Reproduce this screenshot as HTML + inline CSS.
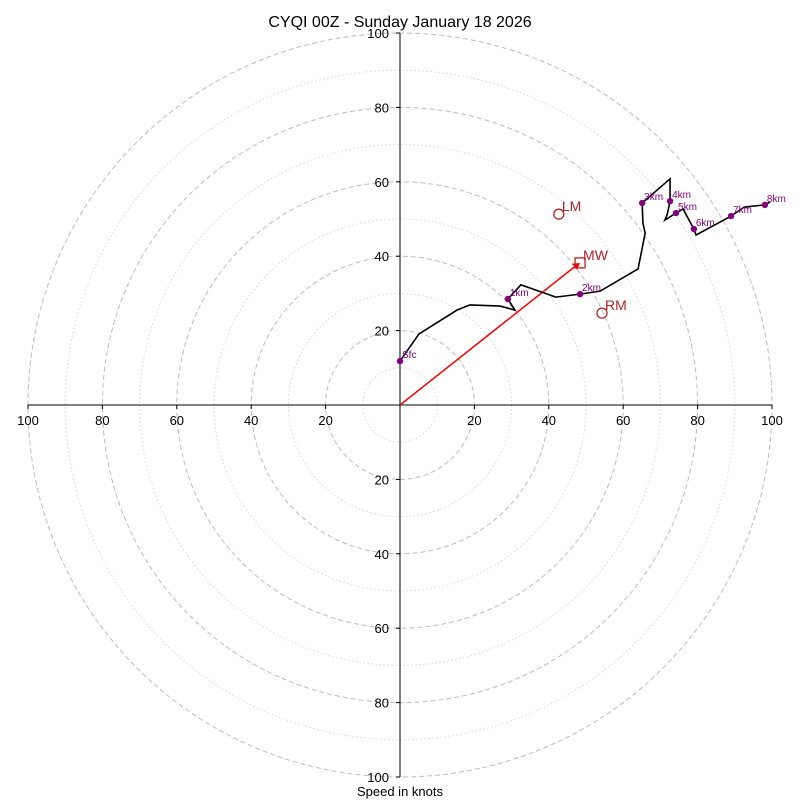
<!DOCTYPE html>
<html><head><meta charset="utf-8"><style>
body{margin:0;background:#fff}
svg{display:block;font-family:"Liberation Sans","DejaVu Sans",sans-serif}
</style></head><body>
<svg id="c" width="800" height="800"></svg>
<script>
const heightLabels=["Sfc","","","","","","1km","","","2km","","","","","3km","","4km","","","5km","","6km","","7km","","8km",""];
const uKts=[0,5.1,15.3,18.8,26.9,30.9,29.0,32.5,41.9,48.4,53.8,64.0,65.9,65.3,65.1,72.6,72.6,71.8,71.2,74.2,76.1,79.0,79.6,89.0,92.5,98.1,99.5];
const vKts=[11.8,19.1,25.5,26.9,26.6,25.5,28.5,32.3,29.0,29.8,30.6,36.6,46.2,48.9,54.3,60.8,54.8,51.1,49.7,51.6,52.7,47.3,45.7,50.8,53.2,53.8,54.6];
const motionNames=["LM","MW","RM"];
const motionU=[42.7,48.4,54.3];
const motionV=[51.3,38.2,24.7];
const ringValues=[10,20,30,40,50,60,70,80,90,100];
const tickLabels=[20,40,60,80,100];
const cx=400,cy=405,S=3.72;
const X=u=>cx+u*S, Y=v=>cy-v*S;
const svg=document.getElementById('c');
const NS='http://www.w3.org/2000/svg';
function mk(t,a,p){const e=document.createElementNS(NS,t);for(const k in a)e.setAttribute(k,a[k]);(p||svg).appendChild(e);return e;}
ringValues.forEach(r=>{
 const e=mk('circle',{cx:cx,cy:cy,r:r*S,fill:'none',stroke:r%20===0?'#bdbdbd':'#d6d6d6','stroke-width':1,'stroke-dasharray':r%20===0?'5,3':'1.5,2.5'});
 
 
});
let ax=mk('line',{x1:X(-100),y1:cy,x2:X(100),y2:cy,stroke:'#000','stroke-width':1});


let ay=mk('line',{x1:cx,y1:Y(100),x2:cx,y2:Y(-100),stroke:'#000','stroke-width':1});


tickLabels.forEach(t=>{
 [t,-t].forEach(s=>{
  mk('line',{x1:X(s),y1:cy,x2:X(s),y2:cy+4,stroke:'#000'});
  const tx=mk('text',{x:X(s),y:cy+20,'text-anchor':'middle','font-size':13});tx.textContent=t;
  
  
  mk('line',{x1:cx-4,y1:Y(s),x2:cx,y2:Y(s),stroke:'#000'});
  const ty=mk('text',{x:cx-11,y:Y(s)+5,'text-anchor':'end','font-size':13});ty.textContent=t;
  
  
 });
});
// storm motion vector
let mv=mk('line',{x1:cx,y1:cy,x2:X(motionU[1])-3,y2:Y(motionV[1])+2,stroke:'#f00','stroke-width':1.5});


mk('polygon',{points:`${X(motionU[1])},${Y(motionV[1])} ${X(motionU[1])-8},${Y(motionV[1])+1} ${X(motionU[1])-3},${Y(motionV[1])+7}`,fill:'#f00'});
// hodograph line
let pts=uKts.map((u,i)=>X(u)+','+Y(vKts[i])).join(' ');
let pl=mk('polyline',{points:pts,fill:'none',stroke:'#000','stroke-width':1.6});


heightLabels.forEach((l,i)=>{
 if(!l)return;
 const d=mk('circle',{cx:X(uKts[i]),cy:Y(vKts[i]),r:3.2,fill:'#800080'});
 
 
 const t=mk('text',{x:X(uKts[i])+2,y:Y(vKts[i])-3,'font-size':10,fill:'#800080'});t.textContent=l;
 
 
});
motionNames.forEach((n,i)=>{
 const x=X(motionU[i]),y=Y(motionV[i]);
 let m;
 if(n==='MW') m=mk('rect',{x:x-5,y:y-5,width:10,height:10,fill:'none',stroke:'#b22222','stroke-width':1.3});
 else m=mk('circle',{cx:x,cy:y,r:5,fill:'none',stroke:'#b22222','stroke-width':1.3});
 
 
 const t=mk('text',{x:x+3,y:y-3,'font-size':14,fill:'#b22222'});t.textContent=n;
 
 
});
let ti=mk('text',{x:400,y:27,'text-anchor':'middle','font-size':16});ti.textContent='CYQI 00Z - Sunday January 18 2026';


let xl=mk('text',{x:400,y:796,'text-anchor':'middle','font-size':13});xl.textContent='Speed in knots';


</script>
</body></html>
